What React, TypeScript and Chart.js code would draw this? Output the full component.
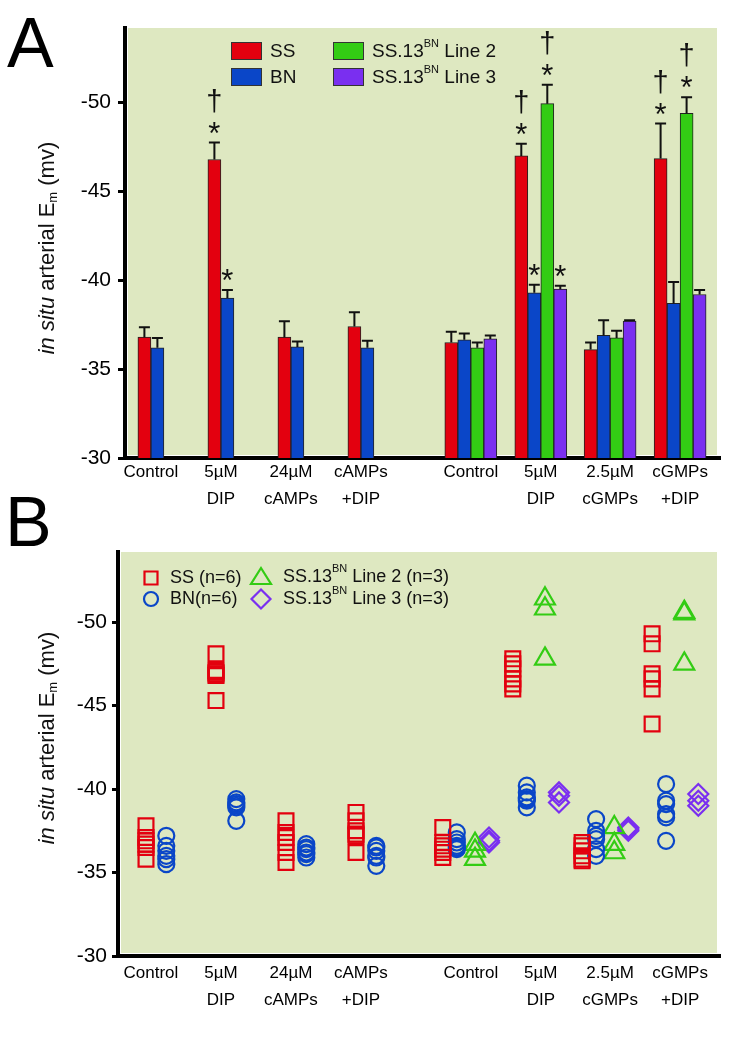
import React, { useEffect, useRef } from 'react';
import { Chart, registerables } from 'chart.js';

Chart.register(...registerables);

const FONT = "'Liberation Sans', Arial, Helvetica, sans-serif";

// ---------- categories / ticks ----------
const groupLabels: string[][] = [
  ['Control'],
  ['5µM', 'DIP'],
  ['24µM', 'cAMPs'],
  ['cAMPs', '+DIP'],
  ['Control'],
  ['5µM', 'DIP'],
  ['2.5µM', 'cGMPs'],
  ['cGMPs', '+DIP'],
];
const groupX = [1, 2, 3, 4, 5.57, 6.57, 7.56, 8.56];
const yTicks = [-50, -45, -40, -35, -30];

// ---------- Panel A: means and SEM ----------
const ssMean = [-36.8, -46.8, -36.8, -37.4, -36.5, -47.0, -36.1, -46.85];
const ssSem = [0.56, 0.95, 0.9, 0.8, 0.6, 0.68, 0.4, 1.97];
const bnMean = [-36.2, -39.0, -36.25, -36.2, -36.65, -39.3, -36.9, -38.7];
const bnSem = [0.56, 0.45, 0.3, 0.4, 0.35, 0.45, 0.85, 1.2];
const l2Mean = [null, null, null, null, -36.2, -49.94, -36.76, -49.4];
const l2Sem = [null, null, null, null, 0.3, 1.07, 0.4, 0.9];
const l3Mean = [null, null, null, null, -36.7, -39.5, -37.7, -39.2];
const l3Sem = [null, null, null, null, 0.2, 0.2, 0.05, 0.25];

// significance marks above bars
const ssSig = ['', '*†', '', '', '', '*†', '', '*†'];
const bnSig = ['', '*', '', '', '', '*', '', ''];
const l2Sig = ['', '', '', '', '', '*†', '', '*†'];
const l3Sig = ['', '', '', '', '', '*', '', ''];

// ---------- Panel B: individual values ----------
const ssPts = [
  [-37.8, -37.1, -36.9, -36.7, -36.5, -35.8],
  [-48.1, -47.1, -47.0, -46.9, -46.8, -45.3],
  [-38.1, -37.4, -37.1, -36.8, -36.2, -35.6],
  [-38.6, -38.1, -37.5, -37.3, -37.2, -36.2],
  [-37.7, -36.8, -36.6, -36.4, -36.2, -35.9],
  [-47.8, -47.5, -47.2, -46.6, -46.3, -46.0],
  [-36.8, -36.6, -36.3, -36.0, -35.8, -35.7],
  [-49.3, -48.7, -46.9, -46.6, -46.0, -43.9],
];
const bnPts = [
  [-37.2, -36.6, -36.3, -36.0, -35.8, -35.5],
  [-39.4, -39.2, -39.1, -39.0, -38.9, -38.1],
  [-36.7, -36.5, -36.4, -36.2, -36.1, -35.9],
  [-36.6, -36.5, -36.3, -36.0, -35.9, -35.4],
  [-37.4, -37.0, -36.8, -36.6, -36.5, -36.4],
  [-40.2, -39.8, -39.5, -39.4, -39.3, -38.9],
  [-38.2, -37.5, -37.2, -37.0, -36.4, -36.0],
  [-40.3, -39.3, -39.1, -38.5, -38.3, -36.9],
];
const l2Pts = [
  null, null, null, null,
  [-36.7, -36.3, -35.8],
  [-51.4, -50.8, -47.8],
  [-37.7, -36.7, -36.2],
  [-50.6, -50.5, -47.5],
];
const l3Pts = [
  null, null, null, null,
  [-37.1, -36.9, -36.8],
  [-39.8, -39.6, -39.2],
  [-37.7, -37.6, -37.5],
  [-39.7, -39.3, -39.0],
];

// ---------- styles ----------
const RED = '#e3000f';
const BLUE = '#0a46c8';
const GREEN = '#33cc14';
const PURPLE = '#7a2ff0';
const BG = 'rgb(222,232,193)';
const INK = '#111';

type Part = { text: string; size: number; italic?: boolean; dy?: number };

function partsWidth(ctx: CanvasRenderingContext2D, parts: Part[]) {
  let w = 0;
  for (const p of parts) {
    ctx.font = `${p.italic ? 'italic ' : ''}${p.size}px ${FONT}`;
    w += ctx.measureText(p.text).width;
  }
  return w;
}
function drawParts(ctx: CanvasRenderingContext2D, parts: Part[], x: number, y: number) {
  let cx = x;
  for (const p of parts) {
    ctx.font = `${p.italic ? 'italic ' : ''}${p.size}px ${FONT}`;
    ctx.fillText(p.text, cx, y + (p.dy || 0));
    cx += ctx.measureText(p.text).width;
  }
}

function titlePlugin(cx: number, cy: number) {
  return {
    id: 'ytitle',
    afterDraw(chart: any) {
      const ctx = chart.ctx as CanvasRenderingContext2D;
      const parts: Part[] = [
        { text: 'in situ', size: 22, italic: true },
        { text: ' arterial E', size: 22 },
        { text: 'm', size: 13, dy: 5 },
        { text: ' (mv)', size: 22 },
      ];
      ctx.save();
      ctx.translate(cx, cy);
      ctx.rotate(-Math.PI / 2);
      ctx.fillStyle = INK;
      ctx.textBaseline = 'middle';
      ctx.textAlign = 'left';
      const w = partsWidth(ctx, parts);
      drawParts(ctx, parts, -w / 2, 0);
      ctx.restore();
    },
  };
}

const bgPlugin = {
  id: 'bgfill',
  beforeDraw(chart: any) {
    const { ctx, chartArea: a } = chart;
    ctx.save();
    ctx.fillStyle = BG;
    ctx.fillRect(a.left + 3, a.top, a.right - a.left - 6, a.bottom - a.top - 3);
    ctx.restore();
  },
};

const semSets = [ssSem, bnSem, l2Sem, l3Sem];
const sigSets = [ssSig, bnSig, l2Sig, l3Sig];

function centeredText(ctx: CanvasRenderingContext2D, t: string, x: number, cy: number) {
  const m = ctx.measureText(t);
  const asc = m.actualBoundingBoxAscent;
  const desc = m.actualBoundingBoxDescent;
  ctx.fillText(t, x, cy + (asc - desc) / 2);
}

const errorPlugin = {
  id: 'errbars',
  afterDatasetsDraw(chart: any) {
    const ctx = chart.ctx as CanvasRenderingContext2D;
    const yS = chart.scales.y;
    ctx.save();
    ctx.strokeStyle = INK;
    ctx.fillStyle = INK;
    ctx.lineWidth = 2;
    chart.data.datasets.forEach((ds: any, di: number) => {
      const meta = chart.getDatasetMeta(di);
      meta.data.forEach((bar: any, j: number) => {
        const raw = ds.data[j];
        const g = raw.g;
        const sem = semSets[di][g] as number;
        const top = yS.getPixelForValue(raw.y - sem);
        ctx.beginPath();
        ctx.moveTo(bar.x, bar.y);
        ctx.lineTo(bar.x, top);
        ctx.moveTo(bar.x - 5.5, top);
        ctx.lineTo(bar.x + 5.5, top);
        ctx.stroke();
        const sig = sigSets[di][g];
        ctx.textAlign = 'center';
        ctx.textBaseline = 'alphabetic';
        if (sig.includes('*')) {
          ctx.font = `31px ${FONT}`;
          centeredText(ctx, '*', bar.x, top - 15);
        }
        if (sig.includes('†')) {
          ctx.font = `29px ${FONT}`;
          centeredText(ctx, '†', bar.x, top - 42);
        }
      });
    });
    ctx.restore();
  },
};

const legendAPlugin = {
  id: 'legendA',
  afterDraw(chart: any) {
    const ctx = chart.ctx as CanvasRenderingContext2D;
    ctx.save();
    const items = [
      { c: RED, x: 231, y: 42, parts: [{ text: 'SS', size: 19 }] },
      { c: BLUE, x: 231, y: 68, parts: [{ text: 'BN', size: 19 }] },
      { c: GREEN, x: 333, y: 42, parts: [{ text: 'SS.13', size: 19 }, { text: 'BN', size: 11, dy: -8 }, { text: ' Line 2', size: 19 }] },
      { c: PURPLE, x: 333, y: 68, parts: [{ text: 'SS.13', size: 19 }, { text: 'BN', size: 11, dy: -8 }, { text: ' Line 3', size: 19 }] },
    ];
    for (const it of items) {
      ctx.fillStyle = it.c;
      ctx.fillRect(it.x, it.y, 31, 18);
      ctx.strokeStyle = '#333';
      ctx.lineWidth = 1;
      ctx.strokeRect(it.x + 0.5, it.y + 0.5, 30, 17);
      ctx.fillStyle = INK;
      ctx.textBaseline = 'middle';
      ctx.textAlign = 'left';
      drawParts(ctx, it.parts as Part[], it.x + 39, it.y + 9.5);
    }
    ctx.restore();
  },
};

function drawMarker(ctx: CanvasRenderingContext2D, kind: string, x: number, y: number, color: string) {
  ctx.strokeStyle = color;
  ctx.lineWidth = 2.2;
  ctx.beginPath();
  if (kind === 'rect') {
    ctx.rect(x - 6.5, y - 6.5, 13, 13);
  } else if (kind === 'circle') {
    ctx.arc(x, y, 7, 0, Math.PI * 2);
  } else if (kind === 'triangle') {
    ctx.moveTo(x, y - 9);
    ctx.lineTo(x + 10, y + 7);
    ctx.lineTo(x - 10, y + 7);
    ctx.closePath();
  } else {
    ctx.moveTo(x, y - 9.5);
    ctx.lineTo(x + 9.5, y);
    ctx.lineTo(x, y + 9.5);
    ctx.lineTo(x - 9.5, y);
    ctx.closePath();
  }
  ctx.stroke();
}

const legendBPlugin = {
  id: 'legendB',
  afterDraw(chart: any) {
    const ctx = chart.ctx as CanvasRenderingContext2D;
    ctx.save();
    const items = [
      { k: 'rect', c: RED, x: 151, y: 58, parts: [{ text: 'SS (n=6)', size: 18 }] },
      { k: 'circle', c: BLUE, x: 151, y: 79, parts: [{ text: 'BN(n=6)', size: 18 }] },
      { k: 'triangle', c: GREEN, x: 261, y: 57, parts: [{ text: 'SS.13', size: 18 }, { text: 'BN', size: 11, dy: -8 }, { text: ' Line 2 (n=3)', size: 18 }] },
      { k: 'diamond', c: PURPLE, x: 261, y: 79, parts: [{ text: 'SS.13', size: 18 }, { text: 'BN', size: 11, dy: -8 }, { text: ' Line 3 (n=3)', size: 18 }] },
    ];
    for (const it of items) {
      drawMarker(ctx, it.k, it.x, it.y, it.c);
      ctx.fillStyle = INK;
      ctx.textBaseline = 'middle';
      ctx.textAlign = 'left';
      drawParts(ctx, it.parts as Part[], it.x + (it.k === 'rect' || it.k === 'circle' ? 19 : 22), it.y);
    }
    ctx.restore();
  },
};

function xScale(min: number, height: number, pad: number) {
  return {
    type: 'linear' as const,
    min,
    max: 9.13,
    offset: false,
    grid: { display: false, drawTicks: false, tickLength: 0 },
    border: { display: true, color: '#000', width: 4 },
    afterBuildTicks: (s: any) => {
      s.ticks = groupX.map((v) => ({ value: v }));
    },
    afterFit: (s: any) => {
      s.height = height;
    },
    ticks: {
      autoSkip: false,
      maxRotation: 0,
      minRotation: 0,
      padding: pad,
      color: '#000',
      font: { family: FONT, size: 17, lineHeight: 1.6 },
      callback: (_v: any, i: number) => groupLabels[i],
    },
  };
}

function yScale(width: number, tickLen: number, pad: number) {
  return {
    type: 'linear' as const,
    reverse: true,
    min: -54.2,
    max: -30,
    afterBuildTicks: (s: any) => {
      s.ticks = yTicks.map((v) => ({ value: v }));
    },
    afterFit: (s: any) => {
      s.width = width;
    },
    grid: { display: true, drawOnChartArea: false, drawTicks: true, tickLength: tickLen, lineWidth: 3, color: '#000' },
    border: { display: true, color: '#000', width: 4 },
    ticks: {
      padding: pad,
      color: '#000',
      font: { family: FONT, size: 21 },
      callback: (v: any) => String(v),
    },
  };
}

function barData(mean: (number | null)[]) {
  return groupX
    .map((x, g) => ({ x, y: mean[g], g }))
    .filter((p) => p.y !== null);
}

function pointData(pts: (number[] | null)[], offTwo: number, offFour: number) {
  const out: { x: number; y: number }[] = [];
  pts.forEach((vals, g) => {
    if (!vals) return;
    const off = l2Pts[g] ? offFour : offTwo;
    vals.forEach((v) => out.push({ x: groupX[g] + off, y: v }));
  });
  return out;
}

export default function App() {
  const refA = useRef<HTMLCanvasElement>(null);
  const refB = useRef<HTMLCanvasElement>(null);

  useEffect(() => {
    Chart.defaults.font.family = FONT;
    const barCommon = { barThickness: 13, borderColor: '#222', borderWidth: 1, skipNull: true, grouped: true };
    const a = new Chart(refA.current as HTMLCanvasElement, {
      type: 'bar',
      data: {
        datasets: [
          { label: 'SS', data: barData(ssMean), backgroundColor: RED, ...barCommon },
          { label: 'BN', data: barData(bnMean), backgroundColor: BLUE, ...barCommon },
          { label: 'SS.13BN Line 2', data: barData(l2Mean), backgroundColor: GREEN, ...barCommon },
          { label: 'SS.13BN Line 3', data: barData(l3Mean), backgroundColor: PURPLE, ...barCommon },
        ] as any,
      },
      options: {
        animation: false,
        responsive: false,
        events: [],
        layout: { padding: { left: 0, right: 21, top: 28, bottom: 0 } },
        plugins: { legend: { display: false }, tooltip: { enabled: false } },
        scales: { x: xScale(0.63, 62, 1), y: yScale(125, 7, 7) } as any,
      },
      plugins: [bgPlugin, errorPlugin, legendAPlugin, titlePlugin(48, 248)],
    });

    const ptCommon = { showLine: false, pointBorderWidth: 2.2, pointBackgroundColor: 'rgba(0,0,0,0)' };
    const b = new Chart(refB.current as HTMLCanvasElement, {
      type: 'scatter',
      data: {
        datasets: [
          { label: 'SS (n=6)', data: pointData(ssPts, -0.07, -0.4), pointStyle: 'rect', pointRadius: 10.5, pointBorderColor: RED, ...ptCommon },
          { label: 'BN(n=6)', data: pointData(bnPts, 0.22, -0.2), pointStyle: 'circle', pointRadius: 8, pointBorderColor: BLUE, ...ptCommon },
          { label: 'SS.13BN Line 2 (n=3)', data: pointData(l2Pts, 0, 0.06), pointStyle: 'triangle', pointRadius: 11.5, pointBorderColor: GREEN, ...ptCommon },
          { label: 'SS.13BN Line 3 (n=3)', data: pointData(l3Pts, 0, 0.26), pointStyle: 'rectRot', pointRadius: 10, pointBorderColor: PURPLE, ...ptCommon },
        ] as any,
      },
      options: {
        animation: false,
        responsive: false,
        events: [],
        layout: { padding: { left: 0, right: 21, top: 32, bottom: 0 } },
        plugins: { legend: { display: false }, tooltip: { enabled: false } },
        scales: { x: xScale(0.53, 91, 4), y: yScale(118, 6, 5) } as any,
      },
      plugins: [bgPlugin, legendBPlugin, titlePlugin(48, 218)],
    });

    return () => {
      a.destroy();
      b.destroy();
    };
  }, []);

  const letter: React.CSSProperties = {
    position: 'absolute',
    fontFamily: FONT,
    fontSize: 70,
    lineHeight: '70px',
    color: '#000',
  };

  return (
    <div style={{ position: 'absolute', left: 0, top: 0, width: 741, height: 1047, background: '#fff' }}>
      <canvas ref={refA} width={741} height={520} style={{ position: 'absolute', left: 0, top: 0 }} />
      <canvas ref={refB} width={741} height={527} style={{ position: 'absolute', left: 0, top: 520 }} />
      <div style={{ ...letter, left: 7, top: 8 }}>A</div>
      <div style={{ ...letter, left: 5, top: 487 }}>B</div>
    </div>
  );
}
